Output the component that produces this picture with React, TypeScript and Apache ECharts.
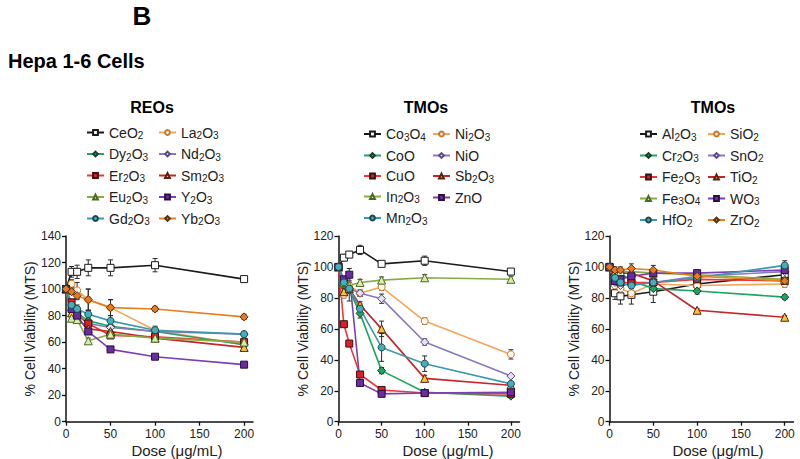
import React, { useEffect, useRef } from 'react';
import * as echarts from 'echarts';

const FONT = "'Liberation Sans', Arial, Helvetica, sans-serif";

// Doses (µg/mL)
const doses = [0, 6.25, 12.5, 25, 50, 100, 200];
const xTickValues = [0, 50, 100, 150, 200];

// ---- Panel 1: REOs ----
const reoCeO2 = [100, 113, 113, 116, 116, 118, 107.5];
const reoCeO2Err = [0, 4, 5, 6, 6, 5, 1];
const reoLa2O3 = [100, 104, 99, 92, 86, 69, 58];
const reoLa2O3Err = [0, 3, 6, 8, 6, 3, 2];
const reoDy2O3 = [100, 84, 82, 76, 72, 68, 58];
const reoDy2O3Err = [0, 2, 2, 3, 3, 2, 2];
const reoNd2O3 = [100, 84, 80, 74, 71, 68, 66];
const reoNd2O3Err = [0, 2, 2, 2, 3, 2, 2];
const reoEr2O3 = [100, 90, 81, 74, 65, 64, 60];
const reoEr2O3Err = [0, 2, 2, 2, 2, 2, 2];
const reoSm2O3 = [100, 82, 78, 70, 68, 63, 56];
const reoSm2O3Err = [0, 2, 2, 2, 2, 2, 2];
const reoEu2O3 = [100, 78, 77, 61, 66, 63, 60];
const reoEu2O3Err = [0, 2, 2, 2, 3, 2, 2];
const reoY2O3 = [100, 85, 80, 68, 54.5, 49, 43];
const reoY2O3Err = [0, 2, 2, 2, 1, 1, 1];
const reoGd2O3 = [100, 88, 85, 81, 76, 69, 66];
const reoGd2O3Err = [0, 3, 3, 3, 4, 2, 2];
const reoYb2O3 = [100, 98, 95, 92, 86, 85, 79];
const reoYb2O3Err = [0, 2, 3, 8, 6, 2, 2];

// ---- Panel 2: TMOs ----
const tmCo3O4 = [100, 106, 108, 111, 102, 104, 97];
const tmCo3O4Err = [0, 2, 2, 3, 1, 3, 1.5];
const tmNi2O3 = [100, 82, 88, 83, 87, 65, 43.5];
const tmNi2O3Err = [0, 2, 2, 2, 2, 2, 3];
const tmCoO = [100, 88, 85, 70, 33, 19, 16.5];
const tmCoOErr = [0, 2, 2, 3, 2, 1, 1];
const tmNiO = [100, 90, 86, 83, 79.5, 51.5, 29.5];
const tmNiOErr = [0, 2, 2, 2, 3, 2, 1];
const tmCuO = [100, 63, 50.5, 30.5, 20.5, 18.5, 18];
const tmCuOErr = [0, 1, 1, 1, 1, 1, 1];
const tmSb2O3 = [100, 84, 86, 75.5, 60, 28, 23.5];
const tmSb2O3Err = [0, 2, 8, 2, 5, 2, 1];
const tmIn2O3 = [100, 90, 88, 90, 91.5, 93, 92];
const tmIn2O3Err = [0, 1, 1, 2, 2, 2, 2];
const tmZnO = [100, 92, 95, 25, 18, 18.5, 19];
const tmZnOErr = [0, 2, 4, 2, 1, 1, 1];
const tmMn2O3 = [100, 90, 86, 73, 48, 37.5, 24.5];
const tmMn2O3Err = [0, 2, 2, 3, 9, 5, 1];

// ---- Panel 3: TMOs ----
const t3Al2O3 = [100, 83, 81, 82, 84, 89, 95];
const t3Al2O3Err = [0, 4, 5, 6, 7, 3, 3];
const t3SiO2 = [100, 88, 86, 83, 89, 88, 89];
const t3SiO2Err = [0, 3, 3, 3, 3, 2, 2];
const t3Cr2O3 = [100, 95, 96, 91, 86, 84.5, 80.5];
const t3Cr2O3Err = [0, 2, 2, 2, 2, 2, 1.5];
const t3SnO2 = [100, 90, 88, 89, 90, 94, 97];
const t3SnO2Err = [0, 2, 2, 2, 2, 2, 2];
const t3Fe2O3 = [100, 91, 90, 90, 90, 92, 91];
const t3Fe2O3Err = [0, 2, 2, 2, 2, 2, 2];
const t3TiO2 = [100, 97, 96, 96, 91, 72, 67.5];
const t3TiO2Err = [0, 2, 2, 2, 2, 1, 1];
const t3Fe3O4 = [100, 96, 97, 97, 96, 95, 92];
const t3Fe3O4Err = [0, 2, 2, 2, 2, 2, 2];
const t3WO3 = [100, 91, 92, 94, 96, 96, 98];
const t3WO3Err = [0, 2, 2, 2, 2, 2, 2];
const t3HfO2 = [100, 93, 90, 88, 90, 93, 101];
const t3HfO2Err = [0, 2, 2, 2, 2, 2, 3];
const t3ZrO2 = [100, 98, 98, 99, 98, 94, 91];
const t3ZrO2Err = [0, 2, 2, 3, 3, 3, 3];

const STYLES: Record<string, any> = {
  black: { line: '#1a1a1a', symbol: 'rect', fill: '#ffffff', border: '#1a1a1a', size: 7 },
  orangeOpen: { line: '#F2A65A', symbol: 'circle', fill: '#fff6ec', border: '#C9782A', size: 7 },
  green: { line: '#1DA65F', symbol: 'diamond', fill: '#1DA65F', border: '#1d3a2a', size: 8 },
  lavender: { line: '#8A78C0', symbol: 'diamond', fill: '#E6E0F6', border: '#5a4a8a', size: 8 },
  red: { line: '#F0353A', symbol: 'rect', fill: '#E01E25', border: '#3a1010', size: 7 },
  redTri: { line: '#C4262C', symbol: 'triangle', fill: '#F5C430', border: '#5a2010', size: 8 },
  olive: { line: '#86AD45', symbol: 'triangle', fill: '#D8EAB0', border: '#4a6a20', size: 8 },
  purple: { line: '#7B3FB5', symbol: 'rect', fill: '#6A2DA0', border: '#2a1040', size: 7 },
  teal: { line: '#3A9AAA', symbol: 'circle', fill: '#45AEBB', border: '#1a4a50', size: 7 },
  orangeDia: { line: '#E8801F', symbol: 'diamond', fill: '#E57A22', border: '#5a3010', size: 8 },
};

type S = { name: string; values: number[]; err: number[]; style: string };

const panel1: S[] = [
  { name: 'CeO2', values: reoCeO2, err: reoCeO2Err, style: 'black' },
  { name: 'La2O3', values: reoLa2O3, err: reoLa2O3Err, style: 'orangeOpen' },
  { name: 'Dy2O3', values: reoDy2O3, err: reoDy2O3Err, style: 'green' },
  { name: 'Nd2O3', values: reoNd2O3, err: reoNd2O3Err, style: 'lavender' },
  { name: 'Er2O3', values: reoEr2O3, err: reoEr2O3Err, style: 'red' },
  { name: 'Sm2O3', values: reoSm2O3, err: reoSm2O3Err, style: 'redTri' },
  { name: 'Eu2O3', values: reoEu2O3, err: reoEu2O3Err, style: 'olive' },
  { name: 'Y2O3', values: reoY2O3, err: reoY2O3Err, style: 'purple' },
  { name: 'Gd2O3', values: reoGd2O3, err: reoGd2O3Err, style: 'teal' },
  { name: 'Yb2O3', values: reoYb2O3, err: reoYb2O3Err, style: 'orangeDia' },
];
const panel2: S[] = [
  { name: 'Co3O4', values: tmCo3O4, err: tmCo3O4Err, style: 'black' },
  { name: 'Ni2O3', values: tmNi2O3, err: tmNi2O3Err, style: 'orangeOpen' },
  { name: 'CoO', values: tmCoO, err: tmCoOErr, style: 'green' },
  { name: 'NiO', values: tmNiO, err: tmNiOErr, style: 'lavender' },
  { name: 'CuO', values: tmCuO, err: tmCuOErr, style: 'red' },
  { name: 'Sb2O3', values: tmSb2O3, err: tmSb2O3Err, style: 'redTri' },
  { name: 'In2O3', values: tmIn2O3, err: tmIn2O3Err, style: 'olive' },
  { name: 'ZnO', values: tmZnO, err: tmZnOErr, style: 'purple' },
  { name: 'Mn2O3', values: tmMn2O3, err: tmMn2O3Err, style: 'teal' },
];
const panel3: S[] = [
  { name: 'Al2O3', values: t3Al2O3, err: t3Al2O3Err, style: 'black' },
  { name: 'SiO2', values: t3SiO2, err: t3SiO2Err, style: 'orangeOpen' },
  { name: 'Cr2O3', values: t3Cr2O3, err: t3Cr2O3Err, style: 'green' },
  { name: 'SnO2', values: t3SnO2, err: t3SnO2Err, style: 'lavender' },
  { name: 'Fe2O3', values: t3Fe2O3, err: t3Fe2O3Err, style: 'red' },
  { name: 'TiO2', values: t3TiO2, err: t3TiO2Err, style: 'redTri' },
  { name: 'Fe3O4', values: t3Fe3O4, err: t3Fe3O4Err, style: 'olive' },
  { name: 'WO3', values: t3WO3, err: t3WO3Err, style: 'purple' },
  { name: 'HfO2', values: t3HfO2, err: t3HfO2Err, style: 'teal' },
  { name: 'ZrO2', values: t3ZrO2, err: t3ZrO2Err, style: 'orangeDia' },
];

const panelTitles = ['REOs', 'TMOs', 'TMOs'];
const panelYMax = [140, 120, 120];

// layout (pixels)
const grids = [
  { left: 66, width: 187 },
  { left: 338.5, width: 181 },
  { left: 609.5, width: 184 },
];
const GRID_TOP = 236;
const GRID_H = 185.7;
const titleX = [152, 426, 713];
const xNameX = [177, 448, 718];
const yNameGap = [29, 29, 26];
const legendCols = [
  [{ left: 86, top: 125.5 }, { left: 158, top: 125.5 }],
  [{ left: 363, top: 127 }, { left: 432, top: 127 }],
  [{ left: 639, top: 127 }, { left: 707, top: 127 }],
];

const fmt = (n: string) => n.replace(/(\d)/g, '{s|$1}');

function buildOption() {
  const panels = [panel1, panel2, panel3];
  const series: any[] = [];
  const legends: any[] = [];
  panels.forEach((p, i) => {
    p.forEach((s) => {
      const st = STYLES[s.style];
      series.push({
        type: 'custom',
        name: 'err-' + s.name,
        xAxisIndex: i,
        yAxisIndex: i,
        silent: true,
        z: 1,
        data: doses.map((d, k) => [d, s.values[k], s.err[k]]).filter((e) => e[2] > 0),
        encode: { x: 0, y: 1 },
        renderItem: (params: any, api: any) => {
          const x = api.value(0);
          const y = api.value(1);
          const e = api.value(2);
          const t = api.coord([x, y + e]);
          const b = api.coord([x, y - e]);
          const w = 2.5;
          const style = { stroke: '#2a2a2a', lineWidth: 1 };
          return {
            type: 'group',
            children: [
              { type: 'line', shape: { x1: t[0], y1: t[1], x2: b[0], y2: b[1] }, style },
              { type: 'line', shape: { x1: t[0] - w, y1: t[1], x2: t[0] + w, y2: t[1] }, style },
              { type: 'line', shape: { x1: b[0] - w, y1: b[1], x2: b[0] + w, y2: b[1] }, style },
            ],
          };
        },
      });
      series.push({
        type: 'line',
        name: s.name,
        xAxisIndex: i,
        yAxisIndex: i,
        data: doses.map((d, k) => [d, s.values[k]]),
        symbol: st.symbol,
        symbolSize: st.size,
        z: 3,
        lineStyle: { color: st.line, width: 1.6 },
        itemStyle: { color: st.fill, borderColor: st.border, borderWidth: 1 },
      });
    });
    const col1 = p.filter((_, k) => k % 2 === 0).map((s) => s.name);
    const col2 = p.filter((_, k) => k % 2 === 1).map((s) => s.name);
    [col1, col2].forEach((names, c) => {
      legends.push({
        orient: 'vertical',
        left: legendCols[i][c].left,
        top: legendCols[i][c].top,
        padding: 0,
        itemWidth: 17,
        itemHeight: 6,
        itemGap: 6.5,
        selectedMode: false,
        data: names,
        formatter: fmt,
        textStyle: {
          fontFamily: FONT,
          fontSize: 14,
          color: '#222',
          rich: { s: { fontFamily: FONT, fontSize: 10, color: '#222', padding: [6, 0, 0, 0] } },
        },
      });
    });
  });

  const graphic: any[] = [
    { type: 'text', x: 142, y: 16, style: { text: 'B', font: `bold 26px ${FONT}`, fill: '#000', align: 'center', verticalAlign: 'middle' } },
    { type: 'text', x: 8, y: 61, style: { text: 'Hepa 1-6 Cells', font: `bold 20px ${FONT}`, fill: '#000', align: 'left', verticalAlign: 'middle' } },
  ];
  panelTitles.forEach((t, i) => {
    graphic.push({ type: 'text', x: titleX[i], y: 107, style: { text: t, font: `bold 16px ${FONT}`, fill: '#000', align: 'center', verticalAlign: 'middle' } });
    graphic.push({ type: 'text', x: xNameX[i], y: 450, style: { text: 'Dose (μg/mL)', font: `15px ${FONT}`, fill: '#222', align: 'center', verticalAlign: 'middle' } });
  });

  const axisLine = { show: true, lineStyle: { color: '#111', width: 1.5 } };
  return {
    animation: false,
    backgroundColor: '#ffffff',
    grid: grids.map((g) => ({ left: g.left, width: g.width, top: GRID_TOP, height: GRID_H, containLabel: false })),
    xAxis: grids.map((_, i) => ({
      type: 'value',
      gridIndex: i,
      min: 0,
      max: 210,
      axisLine: { ...axisLine, onZero: false },
      axisTick: { show: true, length: 4, lineStyle: { color: '#111', width: 1.3 }, customValues: xTickValues },
      axisLabel: { fontFamily: FONT, fontSize: 12, color: '#222', margin: 6, customValues: xTickValues },
      splitLine: { show: false },
    })),
    yAxis: grids.map((_, i) => ({
      type: 'value',
      gridIndex: i,
      min: 0,
      max: panelYMax[i],
      interval: 20,
      name: '% Cell Viability (MTS)',
      nameLocation: 'middle',
      nameGap: yNameGap[i],
      nameTextStyle: { fontFamily: FONT, fontSize: 14, color: '#222' },
      axisLine: { ...axisLine, onZero: false },
      axisTick: { show: true, length: 4, lineStyle: { color: '#111', width: 1.3 } },
      axisLabel: { fontFamily: FONT, fontSize: 12, color: '#222', margin: 5 },
      splitLine: { show: false },
    })),
    legend: legends,
    graphic,
    series,
  };
}

export default function App() {
  const ref = useRef<HTMLDivElement>(null);
  useEffect(() => {
    if (!ref.current) return;
    const chart = echarts.init(ref.current, undefined, { renderer: 'svg' });
    chart.setOption(buildOption() as any);
    return () => chart.dispose();
  }, []);
  return (
    <div
      ref={ref}
      style={{ position: 'fixed', left: 0, top: 0, width: 800, height: 459, background: '#fff' }}
    />
  );
}
